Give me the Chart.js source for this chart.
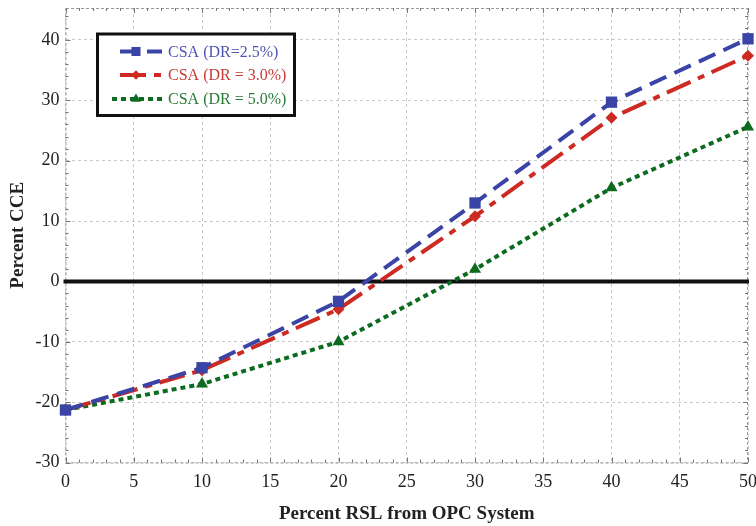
<!DOCTYPE html>
<html><head><meta charset="utf-8">
<script src="https://cdn.jsdelivr.net/npm/chart.js@4"></script>
<style>html,body{margin:0;padding:0;background:#fff}#wrap{width:756px;height:526px}</style>
</head><body><div id="wrap"><canvas id="c" width="756" height="526"></canvas></div>
<script>
const xValues = [0, 10, 20, 30, 40, 50];
const dr25 = [-21.3, -14.3, -3.3, 13.0, 29.7, 40.2];
const dr30 = [-21.3, -14.7, -4.6, 10.8, 27.1, 37.4];
const dr50 = [-21.3, -17.0, -10.0, 2.0, 15.5, 25.6];
const seriesLabels = ['CSA (DR=2.5%)', 'CSA (DR = 3.0%)', 'CSA (DR = 5.0%)'];
const yTickValues = [-30, -20, -10, 0, 10, 20, 30, 40];
const xTitle = 'Percent RSL from OPC System';
const yTitle = 'Percent CCE';

const FONT = '"Liberation Serif", "DejaVu Serif", serif';
const textColors = ['#4f55b0', '#c73a36', '#2a7a38'];

function mk(vals) { return xValues.map((x, i) => ({x: x, y: vals[i]})); }

const frameAndLegend = {
  id: 'frameAndLegend',
  beforeDatasetsDraw(chart) {
    const {ctx, chartArea: a, scales: {x, y}} = chart;
    ctx.save();
    ctx.strokeStyle = '#9a9a9a';
    ctx.lineWidth = 1;
    ctx.setLineDash([3, 2]);
    ctx.strokeRect(a.left + 0.5, a.top + 0.5, a.right - a.left - 1, a.bottom - a.top);
    ctx.setLineDash([]);
    ctx.strokeStyle = '#777';
    ctx.beginPath();
    for (let v = 0; v <= 50; v += 1) {
      const px = Math.round(x.getPixelForValue(v)) + 0.5;
      const L = (v % 5 === 0) ? 5 : 3;
      ctx.moveTo(px, a.bottom); ctx.lineTo(px, a.bottom - L);
      ctx.moveTo(px, a.top); ctx.lineTo(px, a.top + L);
    }
    for (let v = -30; v <= 44; v += 2) {
      const py = Math.round(y.getPixelForValue(v)) + 0.5;
      const L = (v % 10 === 0) ? 5 : 3;
      ctx.moveTo(a.left, py); ctx.lineTo(a.left + L, py);
      ctx.moveTo(a.right, py); ctx.lineTo(a.right - L, py);
    }
    ctx.stroke();
    const y0 = y.getPixelForValue(0);
    ctx.strokeStyle = '#111';
    ctx.lineWidth = 4;
    ctx.beginPath();
    ctx.moveTo(a.left - 2, y0); ctx.lineTo(a.right + 1, y0);
    ctx.stroke();
    ctx.restore();
  },
  afterDatasetsDraw(chart) {
    const {ctx} = chart;
    ctx.save();
    ctx.fillStyle = '#fff';
    ctx.fillRect(97, 34, 198, 82);
    ctx.strokeStyle = '#111';
    ctx.lineWidth = 3;
    ctx.strokeRect(97.5, 34, 197, 81.5);
    const rows = [51.5, 75, 99];
    chart.data.datasets.forEach((ds, i) => {
      const yy = rows[i];
      ctx.strokeStyle = ds.borderColor;
      ctx.lineWidth = ds.borderWidth;
      ctx.setLineDash(ds.borderDash);
      ctx.beginPath();
      ctx.moveTo(i === 2 ? 112 : 120, yy); ctx.lineTo(162, yy);
      ctx.stroke();
      ctx.setLineDash([]);
      ctx.fillStyle = ds.pointBackgroundColor;
      ctx.strokeStyle = ds.pointBackgroundColor;
      Chart.helpers.drawPoint(ctx, {pointStyle: ds.pointStyle, radius: ds.pointRadius * 0.8, rotation: 0, borderWidth: 0}, 136, yy);
      ctx.fillStyle = textColors[i];
      ctx.font = '16px ' + FONT;
      ctx.textBaseline = 'middle';
      ctx.textAlign = 'left';
      ctx.fillText(ds.label, 168, yy + 1);
    });
    ctx.restore();
  }
};

const common = {borderWidth: 4, fill: false, tension: 0, borderCapStyle: 'butt', pointBorderWidth: 0, clip: false};

new Chart(document.getElementById('c'), {
  type: 'line',
  data: {
    datasets: [
      Object.assign({label: seriesLabels[0], data: mk(dr25), borderColor: '#3a43a6', backgroundColor: '#3a43a6',
        pointBackgroundColor: '#3a43a6', pointBorderColor: '#3a43a6', borderDash: [18, 9], pointStyle: 'rect', pointRadius: 8}, common),
      Object.assign({label: seriesLabels[1], data: mk(dr30), borderColor: '#cc2a22', backgroundColor: '#cc2a22',
        pointBackgroundColor: '#cc2a22', pointBorderColor: '#cc2a22', borderDash: [26, 8, 7, 8], pointStyle: 'rectRot', pointRadius: 6}, common),
      Object.assign({label: seriesLabels[2], data: mk(dr50), borderColor: '#0d6b20', backgroundColor: '#0d6b20',
        pointBackgroundColor: '#0d6b20', pointBorderColor: '#0d6b20', borderDash: [5, 4], pointStyle: 'triangle', pointRadius: 7}, common)
    ]
  },
  options: {
    responsive: false,
    animation: false,
    devicePixelRatio: 1,
    layout: {padding: {left: 0, right: 7.7, top: 6, bottom: 0}},
    plugins: {legend: {display: false}, tooltip: {enabled: false}},
    scales: {
      x: {
        type: 'linear', min: 0, max: 50,
        ticks: {stepSize: 5, color: '#222', font: {family: FONT, size: 18}, padding: 9, maxRotation: 0},
        grid: {color: '#c8c8c8', drawTicks: false, tickLength: 0},
        border: {display: false, dash: [3, 3]},
        title: {display: true, text: xTitle, color: '#222', font: {family: FONT, size: 19, weight: 'bold'}, padding: {top: 4, bottom: 1}},
        afterFit(s) { s.height = 63.5; s.paddingLeft = 0; s.paddingRight = 0; }
      },
      y: {
        type: 'linear', min: -30, max: 45.3,
        afterBuildTicks(s) { s.ticks = yTickValues.map(v => ({value: v})); },
        ticks: {color: '#222', font: {family: FONT, size: 18}, padding: 6},
        grid: {color: '#c8c8c8', drawTicks: false, tickLength: 0},
        border: {display: false, dash: [3, 3]},
        title: {display: true, text: yTitle, color: '#222', font: {family: FONT, size: 19, weight: 'bold'}, padding: {top: 7, bottom: 0}},
        afterFit(s) { s.width = 65.5; s.paddingTop = 0; s.paddingBottom = 0; }
      }
    }
  },
  plugins: [frameAndLegend]
});
</script></body></html>
